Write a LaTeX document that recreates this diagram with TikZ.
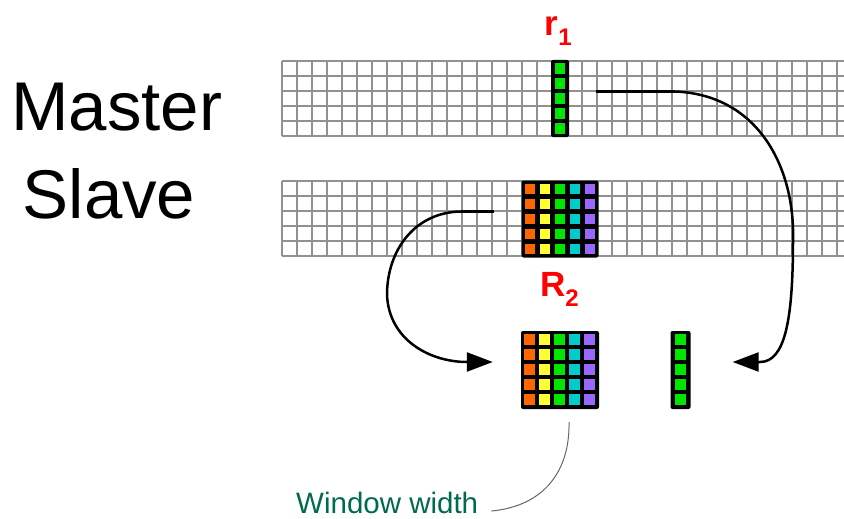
\documentclass[tikz,border=0pt]{standalone}
\usepackage{fontspec}
\setmainfont{Liberation Sans}
\usepackage{xcolor}
\usetikzlibrary{calc,arrows.meta}
\definecolor{cellorange}{RGB}{255,102,0}
\definecolor{cellyellow}{RGB}{255,255,51}
\definecolor{cellgreen}{RGB}{0,230,0}
\definecolor{cellcyan}{RGB}{0,204,204}
\definecolor{cellpurple}{RGB}{153,102,255}
\definecolor{gridgray}{RGB}{145,145,145}
\definecolor{notegreen}{RGB}{0,107,75}
\newcommand{\idx}[1]{\raisebox{-10pt}{\fontsize{24}{24}\selectfont #1}}

\begin{document}
\begin{tikzpicture}[x=1pt,y=-1pt,line join=round,
    gridline/.style={gridgray,line width=1.5pt},
    blk/.style={fill=black,rounded corners=2pt,inner sep=0pt},
    stub/.style={line width=3.8pt},
    link/.style={line width=2.5pt,-{Triangle[length=26pt,width=19pt]}},
    lbl/.style={text=red,font=\fontsize{35}{40}\selectfont\bfseries,inner sep=0pt,anchor=base west},
    big/.style={font=\fontsize{69}{80}\selectfont,inner sep=0pt,anchor=base west},
    note/.style={text=notegreen,font=\fontsize{29.5}{34}\selectfont,inner sep=0pt,anchor=base west}]
  \useasboundingbox (0,0) rectangle (844,519);
  \def\cs{15}
  % master row and slave row of the grid
  \foreach \y in {61,181}{
    \foreach \r in {0,...,5} \draw[gridline] (282,\y+\cs*\r) -- (844,\y+\cs*\r);
    \foreach \k in {0,...,37} \draw[gridline] (282+\cs*\k,\y) -- (282+\cs*\k,\y+75);
  }
  \node[big] (master) at (11,130) {Master};
  \node[big] (slave) at (22.5,218) {Slave};
  % the r_1 column, the R_2 block and their copies below
  \node[blk,minimum width=18pt,minimum height=77pt] (r1col) at (560,98.5) {};
  \node[blk,minimum width=77pt,minimum height=77pt] (R2blk) at (560,219) {};
  \node[blk,minimum width=78pt,minimum height=78pt] (R2cpy) at (560,370) {};
  \node[blk,minimum width=20pt,minimum height=78pt] (r1cpy) at (680.5,370) {};
  \foreach \b in {r1col,r1cpy}
    \foreach \j in {0,...,4}
      \fill[cellgreen] ($(\b.north)+(-5.25,3.5+\cs*\j)$) rectangle +(10.5,10.5);
  \foreach \b in {R2blk,R2cpy}
    \foreach \c [count=\i from 0] in {cellorange,cellyellow,cellgreen,cellcyan,cellpurple}
      \foreach \j in {0,...,4}
        \fill[\c] ($(\b.north west)+(3.5+\cs*\i,3.5+\cs*\j)$) rectangle +(10.5,10.5);
  \node[lbl] (r1lbl) at (544.5,35.7) {r\idx{1}};
  \node[lbl] (R2lbl) at (540,296) {R\idx{2}};
  % transfer of r_1 to the right
  \coordinate (m1) at ($(r1col.east)+(27,-7)$);
  \coordinate (m2) at ($(m1)+(79,0)$);
  \coordinate (m3) at ($(r1cpy.east)+(42,-8)$);
  \draw[stub] (m1) -- (m2);
  \draw[link] (m2) .. controls (760,95) and (795,170) .. (793,240)
    .. controls (793,320) and (785,362) .. (760,362) -- (m3);
  % transfer of R_2 to the left
  \coordinate (s1) at ($(R2blk.west)+(-27,-7.5)$);
  \coordinate (s2) at ($(s1)+(-33,0)$);
  \coordinate (s3) at ($(R2cpy.west)+(-28,-8)$);
  \draw[stub] (s1) -- (s2);
  \draw[link] (s2) .. controls (415,212) and (387,250) .. (387,295)
    .. controls (389,340) and (430,362) .. (467,362) -- (s3);
  % window width note
  \node[note] (wwlbl) at (296,513) {Window width};
  \draw[gray!80!black,line width=1pt] ($(R2cpy.south)+(9,13)$)
    .. controls (570,470) and (545,506) .. ($(wwlbl.base east)+(13,-2)$);
\end{tikzpicture}
\end{document}
